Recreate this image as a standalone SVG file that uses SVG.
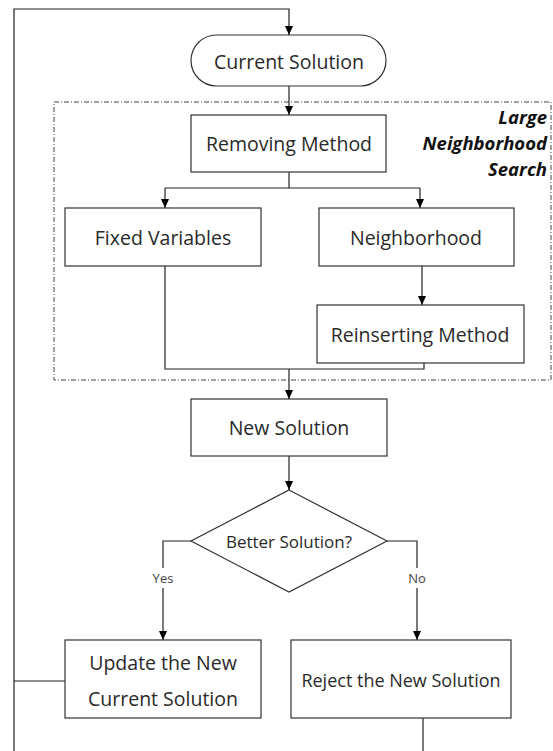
<svg xmlns="http://www.w3.org/2000/svg" width="553" height="751" viewBox="0 0 553 751">
<style>
.box{fill:#fff;stroke:#333;stroke-width:1.2}
.ln{fill:none;stroke:#222;stroke-width:1.2}
.t{font-family:"Open Sans","Noto Sans",sans-serif;font-size:19.5px;fill:#2a2a2a;text-anchor:middle;dominant-baseline:central}
.lbl{font-family:"Open Sans","Noto Sans",sans-serif;font-size:13px;fill:#444;text-anchor:middle;dominant-baseline:central}
.dq{font-family:"Open Sans","Noto Sans",sans-serif;font-size:17px;fill:#2a2a2a;text-anchor:middle;dominant-baseline:central}
.lns{font-family:"Open Sans","Noto Sans",sans-serif;font-size:18.5px;font-weight:bold;font-style:italic;fill:#111;text-anchor:end}
</style>
<defs>
<marker id="ah" markerWidth="10" markerHeight="10" refX="9" refY="5" orient="auto" markerUnits="userSpaceOnUse">
<path d="M0,1 L9,5 L0,9 Z" fill="#000"/>
</marker>
</defs>
<rect width="553" height="751" fill="#fff"/>
<g id="lns-region">
<rect x="54" y="102" width="497" height="278" fill="none" stroke="#444" stroke-width="1" stroke-dasharray="5,2,1,2"/>
<text class="lns" x="547" y="124">Large</text>
<text class="lns" x="547" y="150">Neighborhood</text>
<text class="lns" x="547" y="176">Search</text>
</g>
<g id="connectors">
<polyline class="ln" points="14,751 14,9 289,9 289,35" marker-end="url(#ah)"/>
<line class="ln" x1="289" y1="86" x2="289" y2="115" marker-end="url(#ah)"/>
<polyline class="ln" points="289,172 289,188"/>
<polyline class="ln" points="165,188 420,188"/>
<line class="ln" x1="165" y1="188" x2="165" y2="208" marker-end="url(#ah)"/>
<line class="ln" x1="420" y1="188" x2="420" y2="208" marker-end="url(#ah)"/>
<line class="ln" x1="422" y1="266" x2="422" y2="305" marker-end="url(#ah)"/>
<polyline class="ln" points="165,266 165,369 424,369 424,363"/>
<line class="ln" x1="289" y1="369" x2="289" y2="399" marker-end="url(#ah)"/>
<line class="ln" x1="289" y1="456" x2="289" y2="490" marker-end="url(#ah)"/>
<polyline class="ln" points="191,541 163,541 163,568"/>
<line class="ln" x1="163" y1="588" x2="163" y2="640" marker-end="url(#ah)"/>
<polyline class="ln" points="387,541 417,541 417,568"/>
<line class="ln" x1="417" y1="588" x2="417" y2="640" marker-end="url(#ah)"/>
<line class="ln" x1="14" y1="681" x2="65" y2="681"/>
<line class="ln" x1="423" y1="718" x2="423" y2="751"/>
<text class="lbl" x="163" y="578">Yes</text>
<text class="lbl" x="417" y="578">No</text>
</g>
<g id="current-solution">
<rect class="box" x="191" y="35" width="195" height="51" rx="25.5"/>
<text class="t" x="289" y="61">Current Solution</text>
</g>
<g id="removing-method">
<rect class="box" x="191" y="115" width="195" height="57"/>
<text class="t" x="289" y="143">Removing Method</text>
</g>
<g id="fixed-variables">
<rect class="box" x="65" y="208" width="196" height="58"/>
<text class="t" x="163" y="237">Fixed Variables</text>
</g>
<g id="neighborhood">
<rect class="box" x="319" y="208" width="195" height="58"/>
<text class="t" x="416" y="237">Neighborhood</text>
</g>
<g id="reinserting-method">
<rect class="box" x="317" y="305" width="207" height="58"/>
<text class="t" x="420" y="334">Reinserting Method</text>
</g>
<g id="new-solution">
<rect class="box" x="191" y="399" width="196" height="57"/>
<text class="t" x="289" y="427">New Solution</text>
</g>
<g id="better-solution">
<polygon class="box" points="289,490 387,541 289,592 191,541"/>
<text class="dq" x="289" y="541">Better Solution?</text>
</g>
<g id="update">
<rect class="box" x="65" y="640" width="196" height="78"/>
<text class="t" x="163" y="662">Update the New</text>
<text class="t" x="163" y="698">Current Solution</text>
</g>
<g id="reject">
<rect class="box" x="291" y="640" width="220" height="78"/>
<text class="t" style="font-size:18px" x="401" y="680">Reject the New Solution</text>
</g>
</svg>
